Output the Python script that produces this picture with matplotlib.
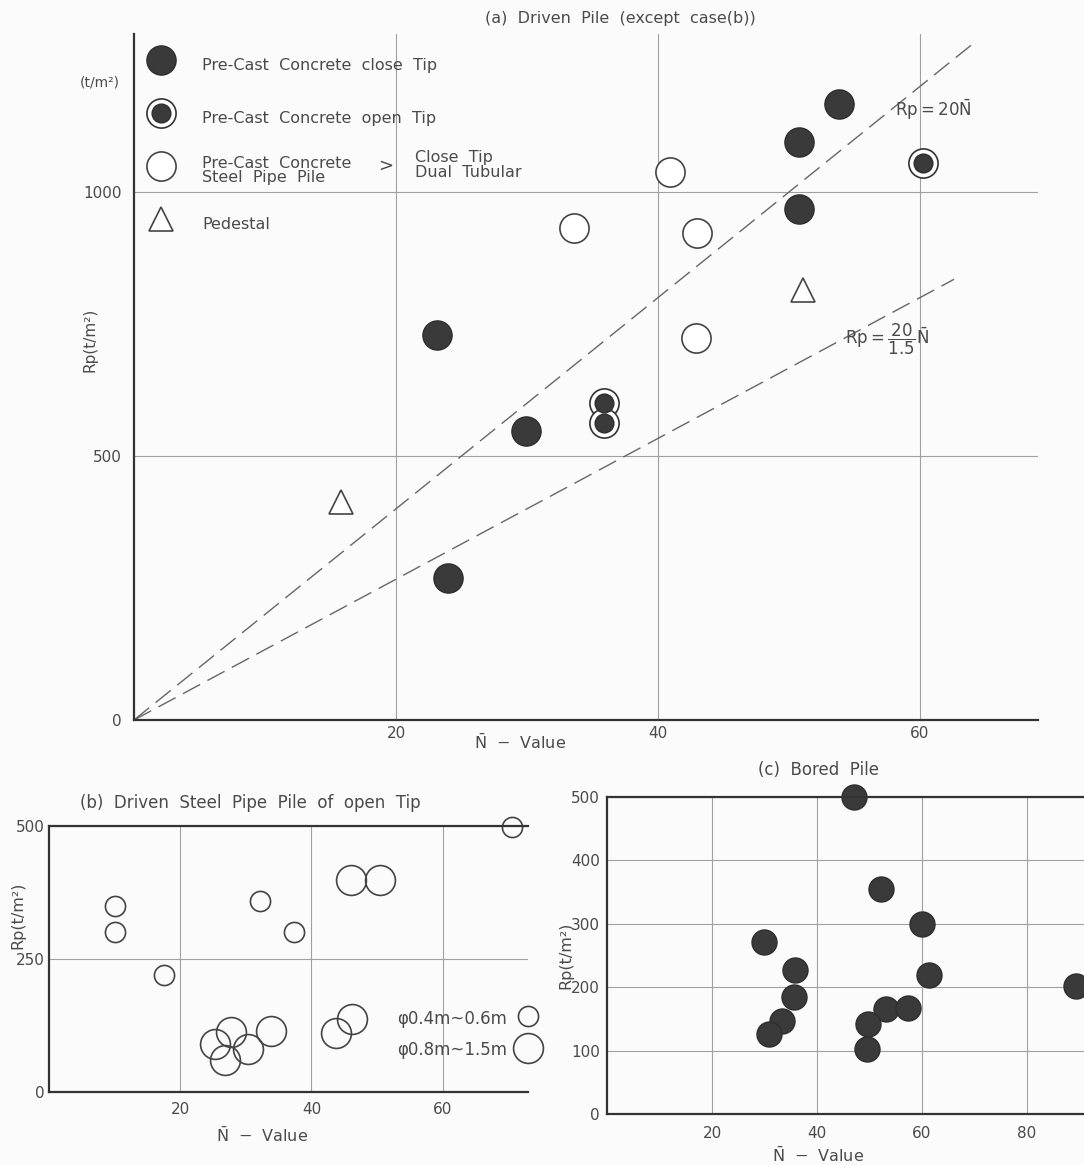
import matplotlib
matplotlib.use("Agg")
import matplotlib.pyplot as plt

# (a) Driven Pile (except case (b))
a_close_n = [53.8, 50.8, 50.8, 23.1, 29.9, 24.0]
a_close_rp = [1167, 1095, 968, 729, 547, 269]
a_open_n = [60.2, 35.9, 35.9]
a_open_rp = [1055, 600, 562]
a_tubular_n = [33.6, 40.9, 43.0, 42.9]
a_tubular_rp = [932, 1038, 922, 723]
a_pedestal_n = [15.8, 51.1]
a_pedestal_rp = [413, 814]
line_k = [20, 20 / 1.5]          # Rp = k * N
line_n_end = [64.3, 62.6]
a_xticks = [20, 40, 60]
a_yticks = [0, 500, 1000]

# (b) Driven Steel Pipe Pile of open Tip
b_small_n = [10.1, 10.1, 17.5, 32.1, 37.3, 70.6]
b_small_rp = [350, 301, 220, 359, 301, 498]
b_large_n = [46.1, 50.4, 25.3, 27.8, 26.8, 30.4, 33.8, 43.7, 46.2]
b_large_rp = [398, 398, 90, 113, 60, 81, 115, 111, 137]
b_xticks = [20, 40, 60]
b_yticks = [0, 250, 500]

# (c) Bored Pile
c_n = [47.0, 52.2, 60.0, 29.9, 35.8, 35.6, 33.3, 30.9, 61.3, 89.3, 53.1, 57.3, 49.7, 49.5]
c_rp = [500, 355, 300, 271, 227, 185, 147, 126, 219, 202, 166, 167, 142, 103]
c_xticks = [20, 40, 60, 80]
c_yticks = [0, 100, 200, 300, 400, 500]

INK = '#3a3a3a'
TXT = '#4a4a4a'
GRID = '#a0a0a0'
BG = '#fbfbfb'
NBAR = r'$\bar{\mathregular{N}}$'
W, H = 1084, 1165

fig = plt.figure(figsize=(W / 100, H / 100), dpi=100, facecolor=BG)


def place(l, t, r, b):
    ax = fig.add_axes([l / W, 1 - b / H, (r - l) / W, (b - t) / H])
    ax.set_facecolor('none')
    return ax


def style(ax, xticks, yticks, xpad, ypad, top=True):
    ax.set_xticks(xticks)
    ax.set_yticks(yticks)
    ax.tick_params(length=0, labelsize=11, labelcolor=TXT)
    ax.tick_params(axis='x', pad=xpad)
    ax.tick_params(axis='y', pad=ypad)
    ax.grid(True, color=GRID, lw=0.8)
    ax.set_axisbelow(True)
    ax.spines['right'].set_visible(False)
    ax.spines['top'].set_visible(top)
    for s in ['left', 'bottom', 'top']:
        ax.spines[s].set_color('#333333')
        ax.spines[s].set_linewidth(1.6)


def ftext(x, y, s, **kw):
    kw.setdefault('fontsize', 11)
    kw.setdefault('color', TXT)
    kw.setdefault('ha', 'center')
    kw.setdefault('va', 'center')
    fig.text(x / W, 1 - y / H, s, **kw)


# ---------- (a) ----------
ax = place(134, 33.6, 1037.9, 720)
ax.set_xlim(0, 69)
ax.set_ylim(0, 1300)
style(ax, a_xticks, a_yticks, 4, 9, top=False)

for k, n_end in zip(line_k, line_n_end):
    ax.plot([0, n_end], [0, k * n_end], color='#666666', lw=1.0,
            dashes=(14, 6))

h_close, = ax.plot(a_close_n, a_close_rp, 'o', ms=21, mfc=INK, mec='#2e2e2e',
                   ls='none')
h_ring, = ax.plot(a_open_n, a_open_rp, 'o', ms=21, mfc='white', mec='#333333',
                  mew=1.2, ls='none')
h_core, = ax.plot(a_open_n, a_open_rp, 'o', ms=13.5, mfc=INK, mec='#2e2e2e',
                  ls='none')
h_tub, = ax.plot(a_tubular_n, a_tubular_rp, 'o', ms=21, mfc='white',
                 mec='#444444', mew=1.2, ls='none')
h_ped, = ax.plot(a_pedestal_n, a_pedestal_rp, '^', ms=17, mfc='white',
                 mec='#444444', mew=1.2, ls='none')

leg = ax.legend([h_close, (h_ring, h_core), h_tub, h_ped],
                ['Pre-Cast  Concrete  close  Tip', 'Pre-Cast  Concrete  open  Tip',
                 'Pre-Cast  Concrete\nSteel  Pipe  Pile', 'Pedestal'],
                loc='upper left', bbox_to_anchor=(145 / W, 1 - 50 / H),
                bbox_transform=fig.transFigure, frameon=False,
                handlelength=2, handleheight=2.6, handletextpad=1.6,
                labelspacing=1.37, borderpad=0, borderaxespad=0,
                fontsize=11.5, labelcolor=TXT)
for t in leg.get_texts():
    t.set_linespacing(0.95)
ftext(386, 166, '>', fontsize=13)
ftext(415, 165, 'Close  Tip\nDual  Tubular', ha='left', linespacing=0.95,
      fontsize=11.5)

ax.text(58.1, 1155, r'Rp$=$20' + NBAR, fontsize=12, color=TXT, va='center')
ax.text(54.3, 720, r'Rp$=\dfrac{20}{1.5}$' + NBAR, fontsize=12, color=TXT,
        va='center')

ftext(620, 18, '(a)  Driven  Pile  (except  case(b))', fontsize=11.5)
ftext(100, 82, '(t/m²)', fontsize=10)
ftext(90, 340, 'Rp(t/m²)', rotation=90)
ftext(520, 742, NBAR + '  −  Value', fontsize=11.5)

# ---------- (b) ----------
bx = place(49, 826, 527.9, 1092)
bx.set_xlim(0, 73)
bx.set_ylim(0, 500)
style(bx, b_xticks, b_yticks, 7, 3)
h_small, = bx.plot(b_small_n, b_small_rp, 'o', ms=14.5, mfc='none',
                   mec='#444444', mew=1.2, ls='none', clip_on=False)
h_large, = bx.plot(b_large_n, b_large_rp, 'o', ms=21.5, mfc='none',
                   mec='#444444', mew=1.2, ls='none', clip_on=False)
bx.legend([h_small, h_large], ['φ0.4m~0.6m', 'φ0.8m~1.5m'],
          loc='center right', bbox_to_anchor=(545 / W, 1 - 1034 / H),
          bbox_transform=fig.transFigure, markerfirst=False, frameon=False,
          handlelength=2, handleheight=1.3, handletextpad=0.3,
          labelspacing=0.75, borderpad=0, borderaxespad=0,
          fontsize=12, labelcolor=TXT)
ftext(250, 803, '(b)  Driven  Steel  Pipe  Pile  of  open  Tip', fontsize=12)
ftext(18, 915, 'Rp(t/m²)', rotation=90, fontsize=11.5)
ftext(262, 1135, NBAR + '  −  Value', fontsize=11.5)

# ---------- (c) ----------
cx = place(607, 797, 1084, 1114)
cx.set_xlim(0, 477 / 5.25)
cx.set_ylim(0, 500)
style(cx, c_xticks, c_yticks, 9, 5)
cx.plot(c_n, c_rp, 'o', ms=18, mfc=INK, mec='#2e2e2e', ls='none',
        clip_on=False)
ftext(818, 770, '(c)  Bored  Pile', fontsize=12)
ftext(566, 955, 'Rp(t/m²)', rotation=90, fontsize=11.5)
ftext(818, 1155, NBAR + '  −  Value', fontsize=11.5)

fig.savefig('out.png', dpi=100, facecolor=BG)
